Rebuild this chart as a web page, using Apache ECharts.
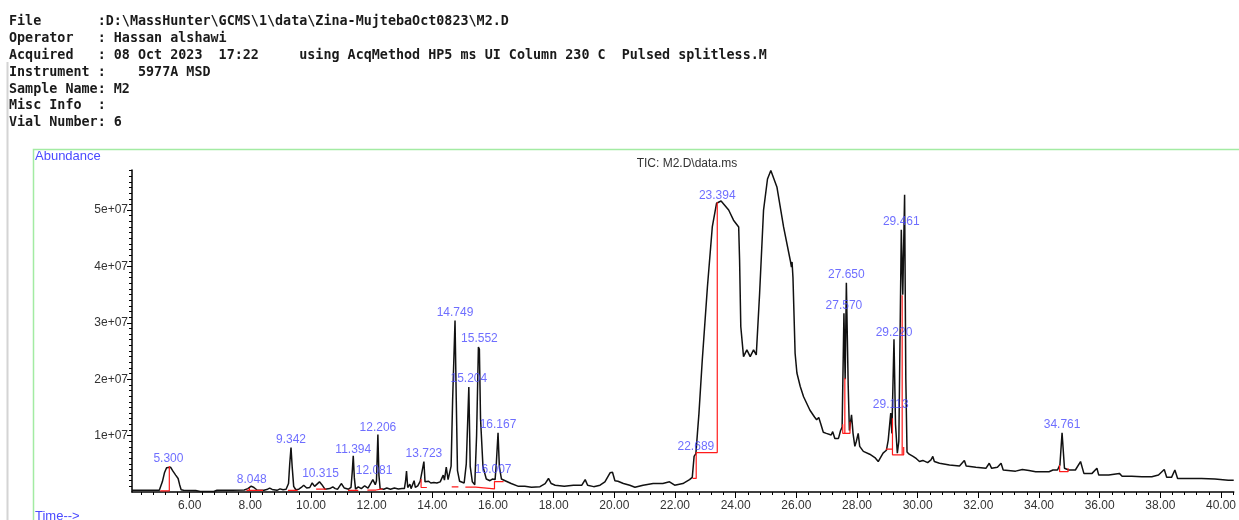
<!DOCTYPE html>
<html>
<head>
<meta charset="utf-8">
<script src="https://cdn.jsdelivr.net/npm/echarts@6/dist/echarts.min.js"></script>
<style>
html,body{margin:0;padding:0;background:#fff;}
#chart{width:1239px;height:520px;}
</style>
</head>
<body>
<div id="chart"></div>
<script>
// ---------- header text ----------
const headerLines = [
  'File       :D:\\MassHunter\\GCMS\\1\\data\\Zina-MujtebaOct0823\\M2.D',
  'Operator   : Hassan alshawi',
  'Acquired   : 08 Oct 2023  17:22     using AcqMethod HP5 ms UI Column 230 C  Pulsed splitless.M',
  'Instrument :    5977A MSD',
  'Sample Name: M2',
  'Misc Info  :',
  'Vial Number: 6'
];
const chartTitle = 'TIC: M2.D\\data.ms';
const yAxisName = 'Abundance';
const xAxisName = 'Time-->';

// ---------- chromatogram trace (time in min, abundance in units of 1e6) ----------
const traceTime = [
  4.10,4.60,5.00,5.04,5.10,5.17,5.24,5.30,5.37,5.45,5.54,5.62,5.67,5.72,5.80,6.20,6.35,6.80,6.90,7.40,
  7.80,7.92,8.03,8.12,8.22,8.45,8.57,8.64,8.72,8.88,8.98,9.08,9.18,9.26,9.30,9.342,9.38,9.43,9.50,9.60,
  9.68,9.76,9.86,9.96,10.04,10.12,10.20,10.28,10.315,10.36,10.46,10.62,10.72,10.80,10.88,11.00,11.10,11.24,11.32,11.36,
  11.394,11.43,11.47,11.56,11.66,11.77,11.88,11.98,12.04,12.081,12.12,12.16,12.206,12.24,12.28,12.40,12.50,12.62,12.75,12.80,
  12.88,13.00,13.08,13.12,13.15,13.19,13.26,13.30,13.36,13.40,13.44,13.52,13.60,13.66,13.723,13.76,13.82,13.88,13.95,14.05,
  14.15,14.26,14.32,14.36,14.40,14.46,14.52,14.58,14.62,14.67,14.749,14.79,14.83,14.90,15.05,15.12,15.204,15.25,15.32,15.40,
  15.46,15.52,15.552,15.59,15.67,15.78,15.90,15.98,16.02,16.07,16.11,16.167,16.21,16.28,16.40,16.60,16.84,17.05,17.27,17.55,
  17.72,17.83,17.92,18.05,18.35,18.65,18.93,19.04,19.12,19.32,19.53,19.69,19.86,19.94,20.02,20.12,20.18,20.30,20.51,20.68,
  20.95,21.28,21.60,21.82,21.99,22.26,22.48,22.57,22.63,22.689,22.74,22.79,22.90,23.07,23.23,23.37,23.52,23.77,23.93,24.10,
  24.13,24.17,24.26,24.37,24.48,24.59,24.68,24.79,24.92,25.05,25.16,25.36,25.58,25.80,25.84,25.86,25.89,25.96,26.02,26.13,
  26.24,26.45,26.60,26.67,26.74,26.80,26.89,26.99,27.15,27.20,27.27,27.39,27.46,27.51,27.57,27.61,27.65,27.71,27.75,27.79,
  27.82,27.87,27.93,27.98,28.04,28.09,28.21,28.42,28.59,28.70,28.76,28.86,28.97,29.03,29.113,29.15,29.22,29.27,29.33,29.38,
  29.461,29.51,29.57,29.61,29.65,29.72,29.85,29.96,30.06,30.17,30.33,30.44,30.50,30.55,30.72,31.05,31.38,31.54,31.60,31.92,
  32.25,32.36,32.44,32.63,32.75,32.82,33.23,33.45,33.67,33.89,34.33,34.46,34.61,34.69,34.761,34.84,34.98,35.03,35.20,35.37,
  35.48,35.75,35.91,35.97,36.30,36.65,36.74,37.06,37.39,37.72,37.94,38.13,38.21,38.37,38.48,38.57,38.92,39.36,39.80,40.24,
  40.42
];
const traceAbundance = [
  0.3,0.3,0.3,0.5,1.8,3.4,4.3,4.6,4.4,3.7,3.0,2.4,1.3,0.4,0.3,0.25,0.1,0.1,0.3,0.3,
  0.35,0.6,1.05,0.8,0.35,0.3,0.5,0.7,0.45,0.3,0.55,0.4,0.5,1.5,5.0,7.9,4.5,1.0,0.4,0.5,
  0.8,1.2,0.7,0.8,1.6,1.0,1.4,1.8,1.9,1.3,0.5,0.6,0.9,0.6,0.5,1.5,0.7,0.5,0.8,3.5,
  6.4,2.5,0.5,0.9,0.6,1.1,0.7,1.6,2.2,2.4,1.3,2.0,10.2,3.0,0.6,0.5,0.7,0.5,0.7,0.9,
  0.55,0.6,0.6,2.0,3.7,0.8,1.4,0.6,0.9,2.0,0.8,1.1,1.9,1.6,5.4,1.8,1.6,1.9,1.6,1.7,
  1.6,1.8,1.7,3.0,2.1,4.4,2.2,2.2,4.6,16.3,30.4,16.3,3.8,1.9,1.6,5.0,18.6,4.5,1.8,1.3,
  10.0,25.7,25.3,13.0,4.5,2.3,2.0,2.3,2.6,2.2,5.0,10.5,4.5,2.3,2.0,1.5,1.0,1.0,0.85,0.95,
  1.5,2.4,1.5,1.2,1.0,1.2,1.2,2.2,1.2,0.95,1.2,1.8,3.4,3.5,2.0,1.9,2.2,1.5,1.2,0.85,
  1.2,1.5,1.5,1.8,1.2,1.5,2.2,2.6,6.3,6.8,10.4,13.9,23.4,36.4,47.0,51.2,51.6,50.0,48.2,47.0,
  41.1,29.3,24.0,25.2,24.0,25.2,24.3,35.2,50.0,55.5,57.0,54.1,47.0,41.1,39.9,40.8,38.0,24.6,21.1,18.7,
  16.9,14.5,13.3,12.8,13.2,12.2,10.6,10.4,10.1,10.7,9.5,9.5,10.9,11.5,31.7,20.0,37.1,19.0,10.9,12.5,
  13.7,10.4,8.1,9.0,10.4,8.1,7.2,6.7,6.1,5.4,5.7,6.9,7.4,9.2,14.0,10.4,27.1,12.0,6.9,9.0,
  46.5,35.0,52.7,20.0,7.1,6.7,6.3,5.9,5.4,5.6,5.2,5.7,6.3,5.4,5.1,4.8,4.6,5.6,4.6,4.4,
  4.2,5.1,4.2,4.4,5.1,3.9,3.7,4.0,3.8,3.6,3.6,3.9,3.9,4.8,10.5,4.2,3.9,4.2,3.9,5.4,
  3.3,3.3,4.2,3.0,3.0,3.3,2.8,2.8,2.7,2.7,3.0,4.0,2.6,2.6,3.9,2.4,2.4,2.4,2.3,2.1,
  2.1
];

// ---------- integration marks (red), each a polyline of [time, abundance(1e6)] ----------
const integrationMarks = [
  [[5.03,0.2],[5.33,0.2],[5.33,4.6]],
  [[7.87,0.3],[7.97,0.3],[7.97,0.7],[7.97,0.3],[8.42,0.3]],
  [[9.24,0.3],[9.56,0.3]],
  [[10.17,0.5],[10.50,0.5]],
  [[11.22,0.3],[11.56,0.3]],
  [[11.86,0.35],[12.14,0.35],[12.14,0.55],[12.36,0.55]],
  [[13.63,2.3],[13.63,0.8],[13.82,0.8]],
  [[14.64,0.9],[14.86,0.9]],
  [[15.09,0.85],[15.43,0.85],[15.43,0.55],[16.05,0.55],[16.05,1.85],[16.35,1.85]],
  [[22.58,2.4],[22.70,2.4],[22.70,7.0],[23.394,7.0],[23.394,51.4]],
  [[27.53,12.0],[27.53,10.4],[27.77,10.4],[27.77,12.5]],
  [[27.60,10.4],[27.60,20.2]],
  [[28.95,7.6],[29.17,7.6]],
  [[29.17,13.1],[29.17,6.6],[29.54,6.6],[29.54,8.0]],
  [[29.49,6.6],[29.49,34.9]],
  [[34.68,4.8],[34.68,3.6],[34.96,3.6],[34.96,4.2]]
];

// ---------- peak labels ----------
const peakRT    = ['5.300','8.048','9.342','10.315','11.394','12.081','12.206','13.723','14.749','15.204','15.552','16.007','16.167','22.689','23.394','27.570','27.650','29.113','29.220','29.461','34.761'];
const peakApex  = [4.56,0.83,7.8,1.9,6.15,2.3,10.05,5.44,30.4,18.6,25.7,2.6,10.5,6.6,51.2,31.6,37.1,14.0,26.8,46.5,10.46];

// ---------- axes ----------
const xMin = 4.10, xMax = 40.42;
const yMin = 0, yMax = 57.1;
const xTickLabels = [6,8,10,12,14,16,18,20,22,24,26,28,30,32,34,36,38,40];
const yTickLabels = [10,20,30,40,50];
const xMinorTicks = [];
for (let v = 4.4; v <= xMax + 1e-9; v += 0.4) xMinorTicks.push(+v.toFixed(2));
const yMinorTicks = [];
for (let v = 1; v <= yMax; v += 1) yMinorTicks.push(v);

const chart = echarts.init(document.getElementById('chart'), null, {renderer: 'canvas'});

const traceData = traceTime.map((t, i) => [t, traceAbundance[i]]);
const labelData = peakRT.map((rt, i) => ({name: rt, value: [parseFloat(rt), peakApex[i]]}));

const mono = '"DejaVu Sans Mono", monospace';
const sans = '"Liberation Sans", Arial, sans-serif';

const graphics = [];
// window edge
graphics.push({type: 'line', silent: true, shape: {x1: 7.5, y1: 62, x2: 7.5, y2: 520}, style: {stroke: '#d4d4d4', lineWidth: 2}});
// green frame
graphics.push({type: 'polyline', silent: true, shape: {points: [[33.5, 520], [33.5, 149.5], [1239, 149.5]]}, style: {stroke: '#a3eba3', lineWidth: 1.5, fill: null}});
headerLines.forEach((line, i) => {
  graphics.push({type: 'text', silent: true, x: 9, y: 21.5 + i * 16.9,
    style: {text: line, font: 'bold 13.4px ' + mono, fill: '#1a1a1a', textVerticalAlign: 'middle', verticalAlign: 'middle'}});
});
graphics.push({type: 'text', silent: true, x: 35, y: 156.5,
  style: {text: yAxisName, font: '13px ' + sans, fill: '#4a4aff', textVerticalAlign: 'middle', verticalAlign: 'middle'}});
graphics.push({type: 'text', silent: true, x: 35, y: 516,
  style: {text: xAxisName, font: '13px ' + sans, fill: '#4a4aff', textVerticalAlign: 'middle', verticalAlign: 'middle'}});
graphics.push({type: 'text', silent: true, x: 687, y: 163.5,
  style: {text: chartTitle, font: '12px ' + sans, fill: '#333', textAlign: 'center', align: 'center', textVerticalAlign: 'middle', verticalAlign: 'middle'}});

const series = [
  {
    type: 'line', xAxisIndex: 0, yAxisIndex: 0, data: traceData, showSymbol: false, symbol: 'none',
    lineStyle: {color: '#111', width: 1.5}, z: 3, silent: true
  }
];
integrationMarks.forEach(poly => {
  series.push({type: 'line', xAxisIndex: 0, yAxisIndex: 0, data: poly, showSymbol: false, symbol: 'none',
    lineStyle: {color: '#ff1a1a', width: 1.2}, z: 4, silent: true});
});
series.push({
  type: 'scatter', xAxisIndex: 0, yAxisIndex: 0, data: labelData, symbolSize: 0, z: 5, silent: true,
  label: {show: true, position: 'top', distance: 2, formatter: '{b}', color: '#4a4aff', fontSize: 12, fontFamily: sans}
});

chart.setOption({
  animation: false,
  backgroundColor: '#ffffff',
  grid: {left: 132, right: 0, top: 170, bottom: 28, containLabel: false},
  graphic: graphics,
  xAxis: [
    {
      type: 'value', min: xMin, max: xMax, position: 'bottom',
      axisLine: {show: true, onZero: false, lineStyle: {color: '#000', width: 1.5}},
      axisTick: {show: true, length: 6, customValues: xTickLabels, lineStyle: {color: '#000', width: 1}},
      axisLabel: {show: true, customValues: xTickLabels, formatter: v => v.toFixed(2), color: '#333', fontSize: 12, fontFamily: sans, margin: 8},
      splitLine: {show: false}
    },
    {
      type: 'value', min: xMin, max: xMax, position: 'bottom',
      axisLine: {show: false, onZero: false},
      axisTick: {show: true, length: 3, customValues: xMinorTicks, lineStyle: {color: '#000', width: 1}},
      axisLabel: {show: false},
      splitLine: {show: false}
    }
  ],
  yAxis: [
    {
      type: 'value', min: yMin, max: yMax, position: 'left',
      axisLine: {show: true, onZero: false, lineStyle: {color: '#000', width: 1.5}},
      axisTick: {show: true, length: 5, customValues: yTickLabels, lineStyle: {color: '#000', width: 1}},
      axisLabel: {show: true, customValues: yTickLabels, formatter: v => (v / 10) + 'e+07', color: '#333', fontSize: 12, fontFamily: sans, margin: 4},
      splitLine: {show: false}
    },
    {
      type: 'value', min: yMin, max: yMax, position: 'left', offset: 0,
      axisLine: {show: false, onZero: false},
      axisTick: {show: true, length: 3, customValues: yMinorTicks, lineStyle: {color: '#000', width: 1}},
      axisLabel: {show: false},
      splitLine: {show: false}
    }
  ],
  series: series
});
</script>
</body>
</html>
